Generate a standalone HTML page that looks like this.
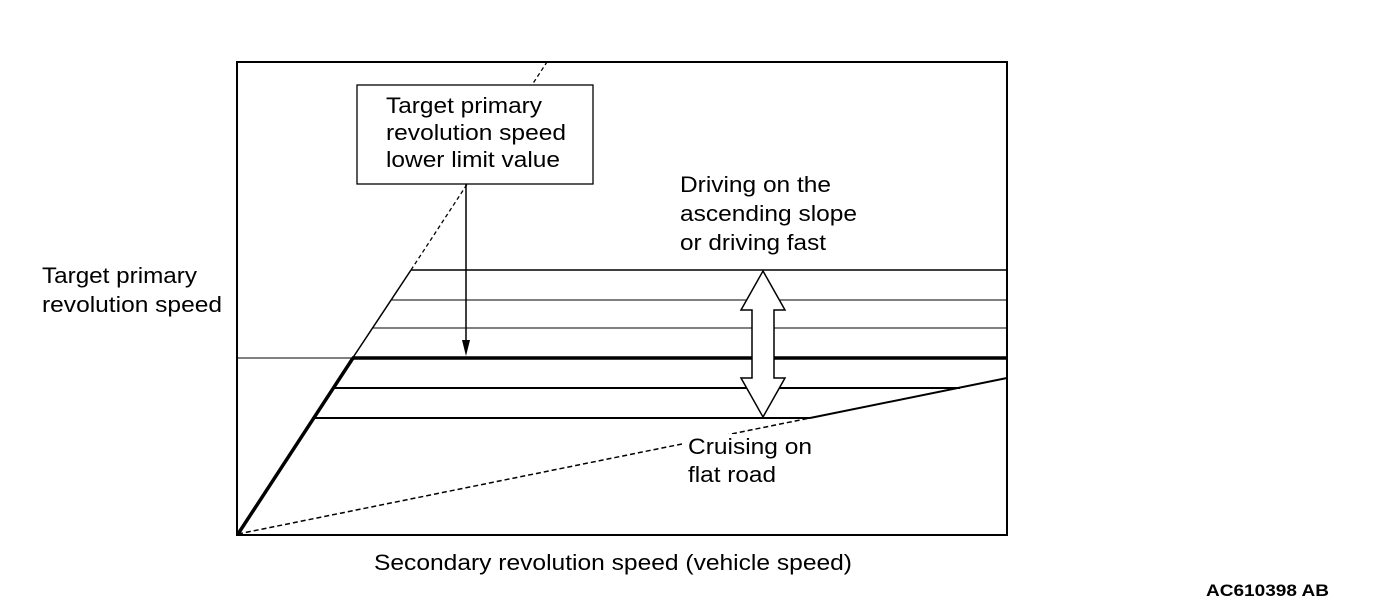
<!DOCTYPE html>
<html><head><meta charset="utf-8"><style>
html,body{margin:0;padding:0;background:#fff;}
svg{display:block;}
text{font-family:"Liberation Sans",Arial,sans-serif;font-size:22px;fill:#000;}
</style></head><body>
<svg width="1376" height="604" viewBox="0 0 1376 604" xmlns="http://www.w3.org/2000/svg">
<rect x="237" y="62" width="770" height="473" fill="none" stroke="#000" stroke-width="2"/>
<line x1="411" y1="270" x2="1007" y2="270" stroke="#000" stroke-width="1.5"/>
<line x1="391" y1="300" x2="1007" y2="300" stroke="#000" stroke-width="1"/>
<line x1="373" y1="328" x2="1007" y2="328" stroke="#000" stroke-width="1"/>
<line x1="237" y1="358" x2="353" y2="358" stroke="#000" stroke-width="1"/>
<line x1="352" y1="358" x2="1007" y2="358" stroke="#000" stroke-width="3.5"/>
<line x1="334" y1="388" x2="960" y2="388" stroke="#000" stroke-width="2"/>
<line x1="314" y1="418" x2="810" y2="418" stroke="#000" stroke-width="2"/>
<line x1="238" y1="534" x2="353" y2="358" stroke="#000" stroke-width="3.5"/>
<line x1="352" y1="359" x2="411" y2="270" stroke="#000" stroke-width="1.5"/>
<line x1="411" y1="270" x2="547" y2="62" stroke="#000" stroke-width="1.3" stroke-dasharray="4,3"/>
<line x1="238" y1="534" x2="810" y2="418" stroke="#000" stroke-width="1.5" stroke-dasharray="5,3"/>
<line x1="810" y1="418" x2="1007" y2="378" stroke="#000" stroke-width="2"/>
<rect x="357" y="85" width="236" height="99" fill="#fff" stroke="#000" stroke-width="1.3"/>
<text x="386" y="113" textLength="156" lengthAdjust="spacingAndGlyphs">Target primary</text>
<text x="386" y="140" textLength="180" lengthAdjust="spacingAndGlyphs">revolution speed</text>
<text x="386" y="167" textLength="174" lengthAdjust="spacingAndGlyphs">lower limit value</text>
<line x1="466" y1="184" x2="466" y2="345" stroke="#000" stroke-width="1.5"/>
<polygon points="462,340 470,340 466,356" fill="#000"/>
<polygon points="763,271 785,310 774,310 774,378 785,378 763,417 741,378 752,378 752,310 741,310" fill="#fff" stroke="#000" stroke-width="1.5"/>
<rect x="682" y="434" width="135" height="56" fill="#fff"/>
<text x="688" y="454" textLength="124" lengthAdjust="spacingAndGlyphs">Cruising on</text>
<text x="688" y="482" textLength="88" lengthAdjust="spacingAndGlyphs">flat road</text>
<text x="680" y="192" textLength="151" lengthAdjust="spacingAndGlyphs">Driving on the</text>
<text x="680" y="221" textLength="177" lengthAdjust="spacingAndGlyphs">ascending slope</text>
<text x="680" y="250" textLength="146" lengthAdjust="spacingAndGlyphs">or driving fast</text>
<text x="42" y="283" textLength="155" lengthAdjust="spacingAndGlyphs">Target primary</text>
<text x="42" y="312" textLength="180" lengthAdjust="spacingAndGlyphs">revolution speed</text>
<text x="374" y="570" textLength="478" lengthAdjust="spacingAndGlyphs">Secondary revolution speed (vehicle speed)</text>
<text x="1206" y="596" style="font-size:17px;font-weight:bold" textLength="123" lengthAdjust="spacingAndGlyphs">AC610398 AB</text>
</svg>
</body></html>
